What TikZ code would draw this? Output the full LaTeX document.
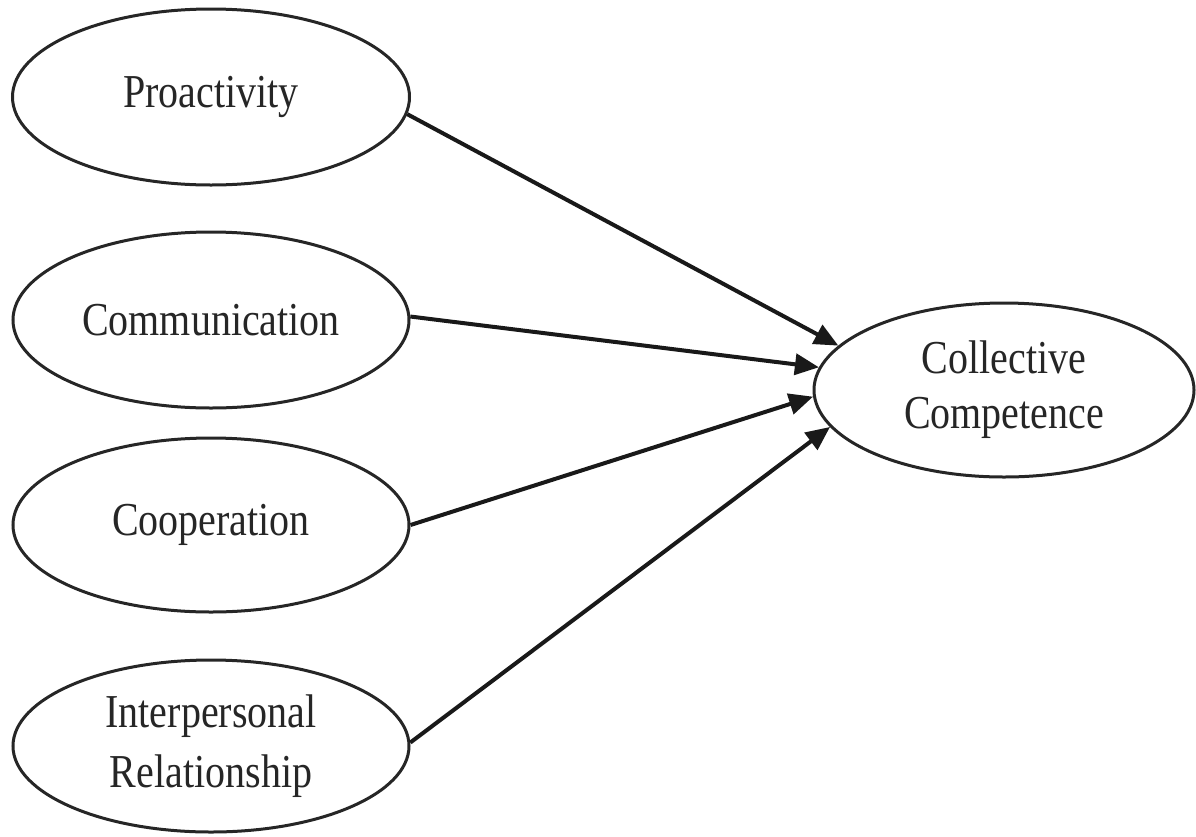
\documentclass[tikz,border=0pt]{standalone}
\usepackage{fontspec}
\setmainfont{Liberation Serif}
\usetikzlibrary{shapes.geometric,arrows.meta}
\newcommand{\vs}[1]{\scalebox{1}[1.18]{#1}}
\begin{document}
\begin{tikzpicture}[x=1pt,y=-1pt,
  latent/.style={ellipse,draw=black!85,line width=3pt,inner sep=0pt,
    font=\fontsize{40}{58}\selectfont,text=black!85,align=center},
  path/.style={line width=4pt,draw=black!90,-{Triangle[length=24pt,width=21pt]}}]
\useasboundingbox (0,0) rectangle (1196,836);
\node[latent,minimum width=397pt,minimum height=176pt] (pro) at (211,97) {\vs{Proactivity}};
\node[latent,minimum width=396pt,minimum height=176pt] (com) at (211,320) {\vs{Communication}};
\node[latent,minimum width=396pt,minimum height=174pt] (coo) at (211,525) {\vs{Cooperation}};
\node[latent,minimum width=396pt,minimum height=172pt,font=\fontsize{40}{60}\selectfont] (int) at (211,746) {\vs{Interpersonal}\\\vs{Relationship}};
\node[latent,minimum width=380pt,minimum height=174pt,font=\fontsize{40}{55}\selectfont] (col) at (1004,390) {\vs{Collective}\\\vs{Competence}};
\draw[path] (pro.-5) -- (col.165);
\draw[path] (com.1) -- (col.173);
\draw[path] (coo.0) -- (col.182);
\draw[path] (int.1) -- (col.192.5);
\end{tikzpicture}
\end{document}
